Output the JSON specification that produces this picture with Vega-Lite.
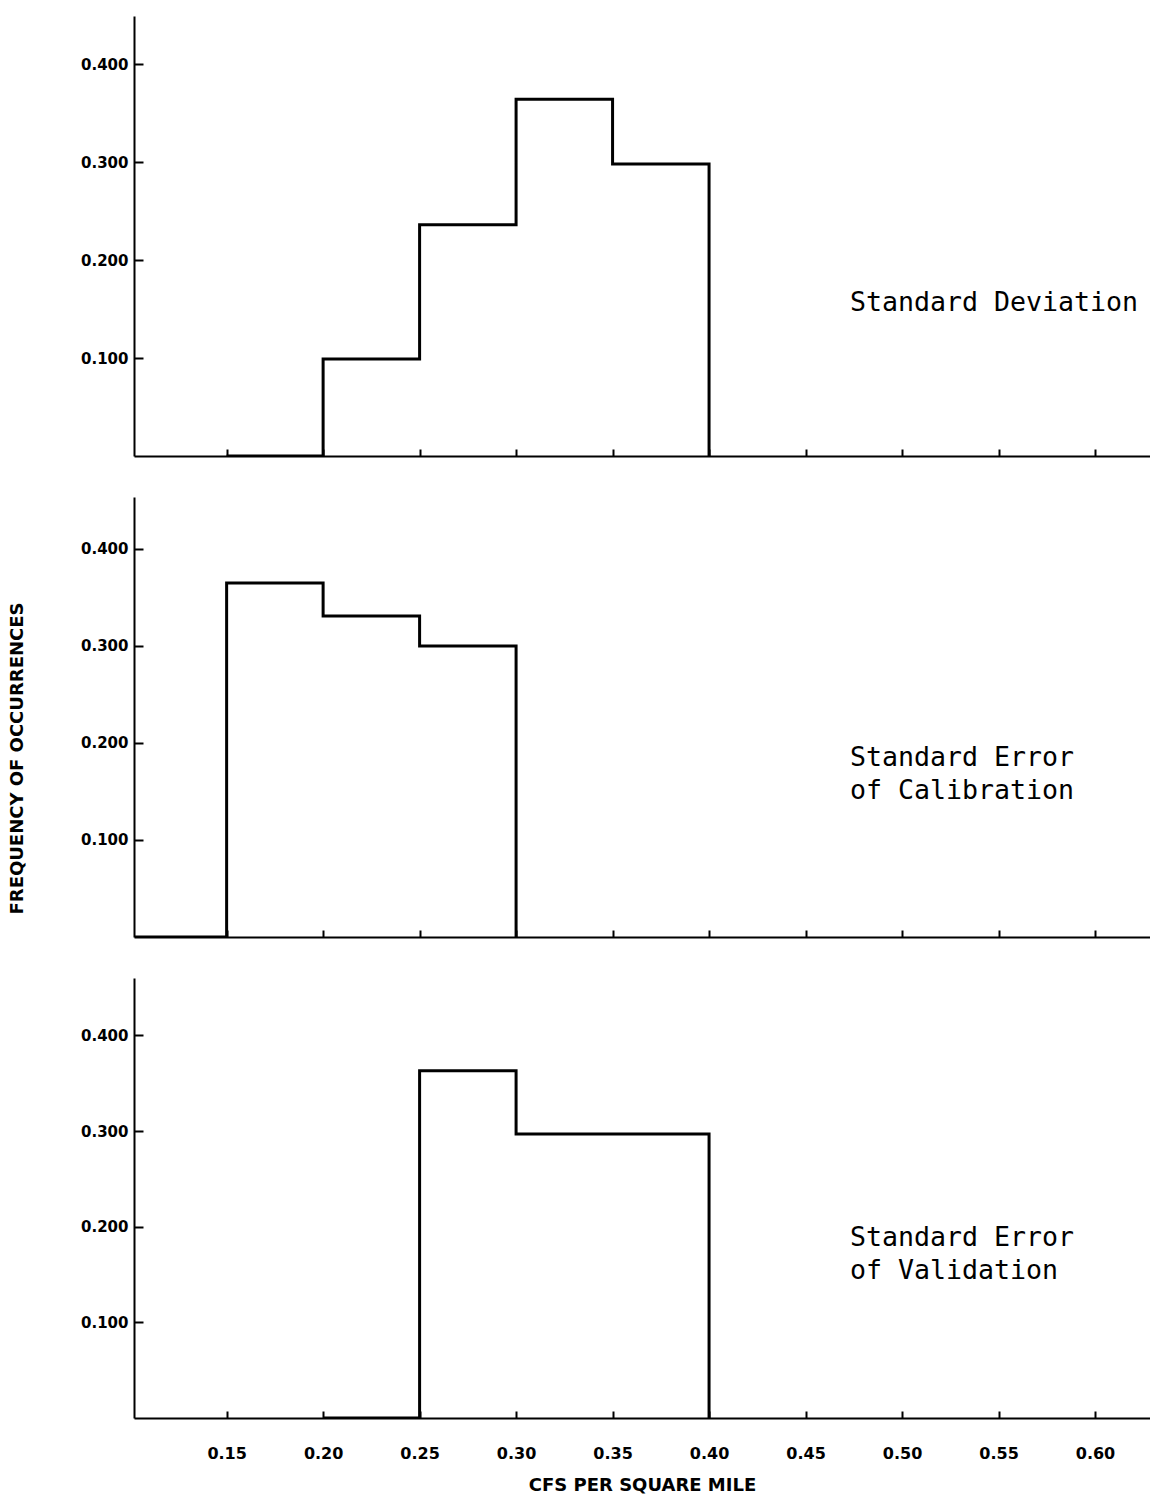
{
  "$schema": "https://vega.github.io/schema/vega-lite/v6.json",
  "autosize": {"type": "pad"},
  "padding": {"left": 7, "top": 16, "right": 0, "bottom": 0},
  "background": "white",
  "spacing": 40,
  "config": {
    "view": {"stroke": null},
    "axis": {
      "grid": false,
      "domainColor": "black",
      "domainWidth": 2,
      "tickColor": "black",
      "tickWidth": 2,
      "labelColor": "black",
      "titleColor": "black",
      "labelFont": "DejaVu Sans",
      "titleFont": "DejaVu Sans",
      "labelFontWeight": "bold"
    }
  },
  "datasets": {
    "hist": [
      {"panel": "sd", "cfs": 0.15, "frequency": 0},
      {"panel": "sd", "cfs": 0.20, "frequency": 0.099},
      {"panel": "sd", "cfs": 0.25, "frequency": 0.236},
      {"panel": "sd", "cfs": 0.30, "frequency": 0.364},
      {"panel": "sd", "cfs": 0.35, "frequency": 0.298},
      {"panel": "sd", "cfs": 0.40, "frequency": 0},
      {"panel": "cal", "cfs": 0.10, "frequency": 0},
      {"panel": "cal", "cfs": 0.15, "frequency": 0.365},
      {"panel": "cal", "cfs": 0.20, "frequency": 0.331},
      {"panel": "cal", "cfs": 0.25, "frequency": 0.300},
      {"panel": "cal", "cfs": 0.30, "frequency": 0},
      {"panel": "val", "cfs": 0.20, "frequency": 0},
      {"panel": "val", "cfs": 0.25, "frequency": 0.363},
      {"panel": "val", "cfs": 0.30, "frequency": 0.297},
      {"panel": "val", "cfs": 0.35, "frequency": 0.297},
      {"panel": "val", "cfs": 0.40, "frequency": 0}
    ]
  },
  "vconcat": [
    {
      "width": 1016,
      "height": 440,
      "layer": [
        {
          "data": {"name": "hist"},
          "transform": [{"filter": "datum.panel === 'sd'"}],
          "mark": {"type": "line", "interpolate": "step-after", "color": "black", "strokeWidth": 3, "clip": true},
          "encoding": {
            "x": {"field": "cfs", "type": "quantitative", "scale": {"domain": [0.102, 0.6285], "nice": false, "zero": false},
              "axis": {"values": [0.15, 0.2, 0.25, 0.3, 0.35, 0.4, 0.45, 0.5, 0.55, 0.6], "labels": false, "title": null, "tickSize": -7}},
            "y": {"field": "frequency", "type": "quantitative", "scale": {"domain": [0, 0.449], "nice": false},
              "axis": {"values": [0.1, 0.2, 0.3, 0.4], "format": ".3f", "tickSize": -9, "labelPadding": 15, "labelFontSize": 15, "title": null}}
          }
        },
        {
          "data": {"values": [{}]},
          "mark": {"type": "text", "font": "DejaVu Sans Mono", "fontSize": 26.6, "align": "left", "baseline": "middle", "color": "black"},
          "encoding": {
            "x": {"datum": 0.473, "type": "quantitative"},
            "y": {"datum": 0.156, "type": "quantitative"},
            "text": {"value": "Standard Deviation"}
          }
        }
      ]
    },
    {
      "width": 1016,
      "height": 440,
      "layer": [
        {
          "data": {"name": "hist"},
          "transform": [{"filter": "datum.panel === 'cal'"}],
          "mark": {"type": "line", "interpolate": "step-after", "color": "black", "strokeWidth": 3, "clip": true},
          "encoding": {
            "x": {"field": "cfs", "type": "quantitative", "scale": {"domain": [0.102, 0.6285], "nice": false, "zero": false},
              "axis": {"values": [0.15, 0.2, 0.25, 0.3, 0.35, 0.4, 0.45, 0.5, 0.55, 0.6], "labels": false, "title": null, "tickSize": -7}},
            "y": {"field": "frequency", "type": "quantitative", "scale": {"domain": [0, 0.4536], "nice": false},
              "axis": {"values": [0.1, 0.2, 0.3, 0.4], "format": ".3f", "tickSize": -9, "labelPadding": 15, "labelFontSize": 15,
                "title": "FREQUENCY OF OCCURRENCES", "titleFontSize": 18, "titleFontWeight": "bold", "titleX": -108, "titleY": 261}}
          }
        },
        {
          "data": {"values": [{}]},
          "mark": {"type": "text", "font": "DejaVu Sans Mono", "fontSize": 26.6, "align": "left", "baseline": "middle", "color": "black", "lineHeight": 33},
          "encoding": {
            "x": {"datum": 0.473, "type": "quantitative"},
            "y": {"datum": 0.185, "type": "quantitative"},
            "text": {"value": ["Standard Error", "of Calibration"]}
          }
        }
      ]
    },
    {
      "width": 1016,
      "height": 440,
      "layer": [
        {
          "data": {"name": "hist"},
          "transform": [{"filter": "datum.panel === 'val'"}],
          "mark": {"type": "line", "interpolate": "step-after", "color": "black", "strokeWidth": 3, "clip": true},
          "encoding": {
            "x": {"field": "cfs", "type": "quantitative", "scale": {"domain": [0.102, 0.6285], "nice": false, "zero": false},
              "axis": {"values": [0.15, 0.2, 0.25, 0.3, 0.35, 0.4, 0.45, 0.5, 0.55, 0.6], "format": ".2f", "tickSize": -7, "labelPadding": 34, "labelFontSize": 16,
                "title": "CFS PER SQUARE MILE", "titleFontSize": 18, "titleFontWeight": "bold", "titlePadding": 15}},
            "y": {"field": "frequency", "type": "quantitative", "scale": {"domain": [0, 0.46], "nice": false},
              "axis": {"values": [0.1, 0.2, 0.3, 0.4], "format": ".3f", "tickSize": -9, "labelPadding": 15, "labelFontSize": 15, "title": null}}
          }
        },
        {
          "data": {"values": [{}]},
          "mark": {"type": "text", "font": "DejaVu Sans Mono", "fontSize": 26.6, "align": "left", "baseline": "middle", "color": "black", "lineHeight": 33},
          "encoding": {
            "x": {"datum": 0.473, "type": "quantitative"},
            "y": {"datum": 0.188, "type": "quantitative"},
            "text": {"value": ["Standard Error", "of Validation"]}
          }
        }
      ]
    }
  ]
}
